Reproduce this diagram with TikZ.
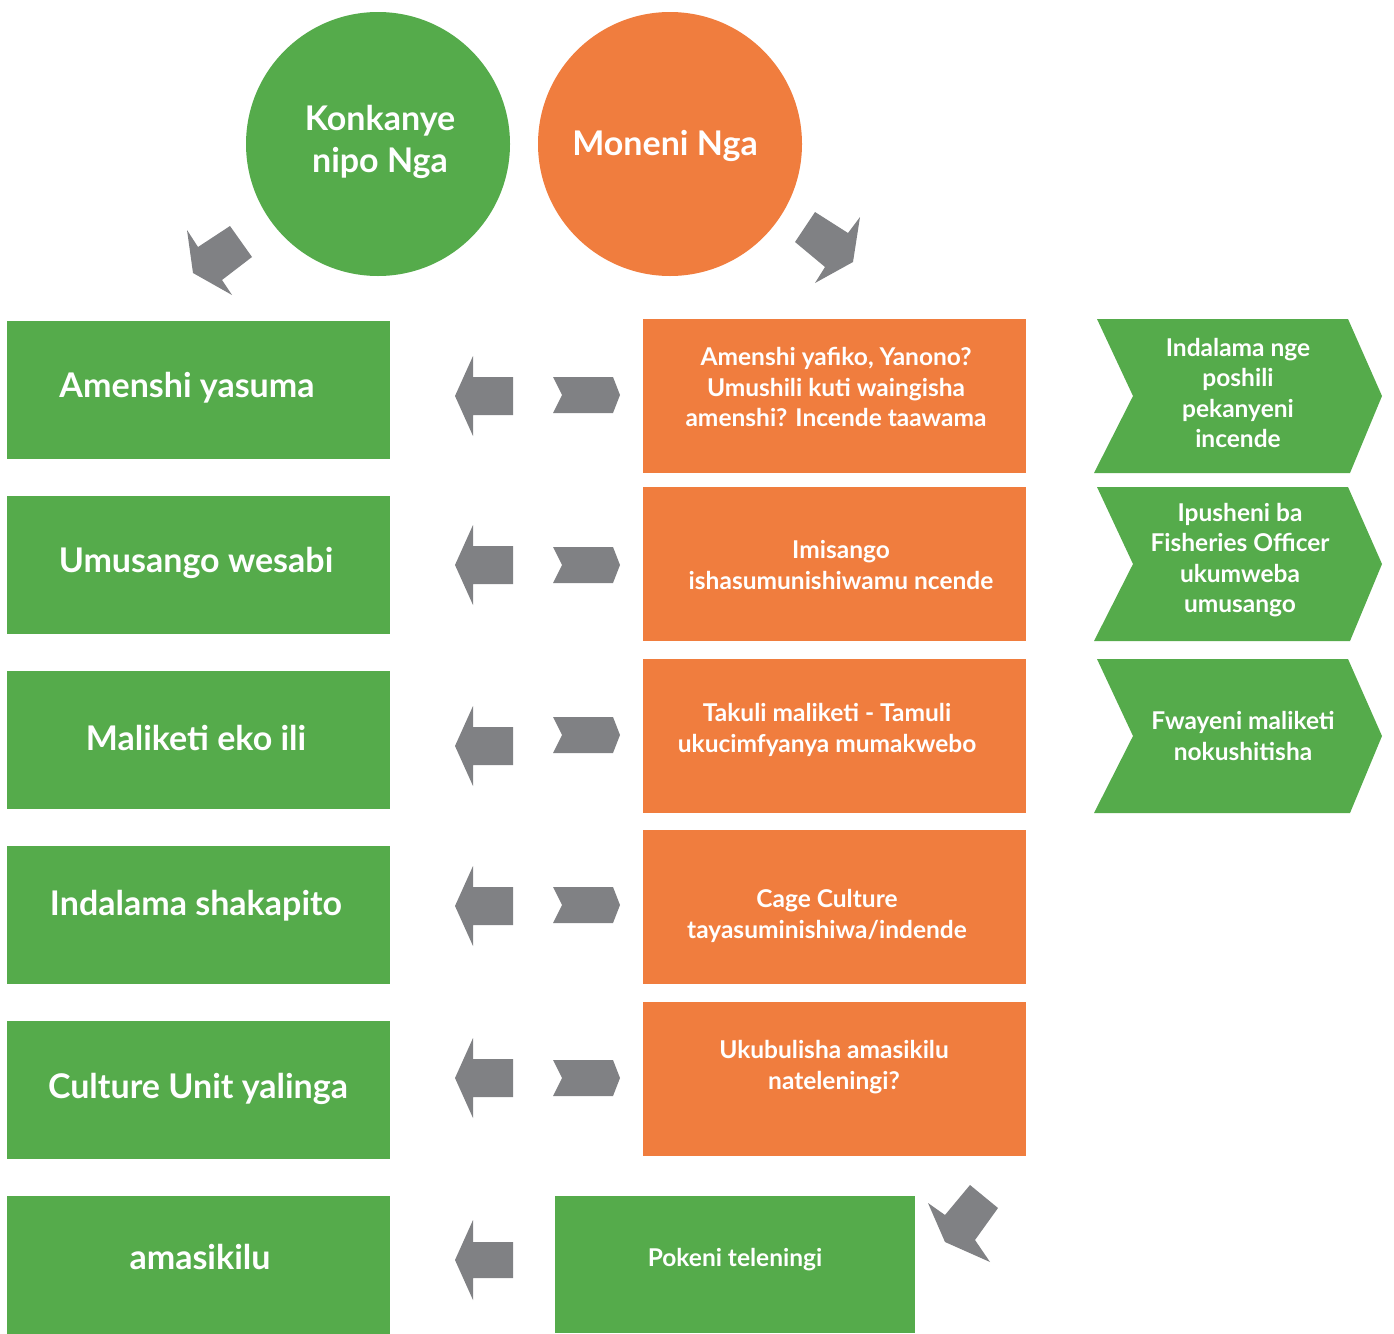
\documentclass[tikz,border=0pt]{standalone}
\usepackage{fontspec}
\setmainfont{Lato}
\usetikzlibrary{positioning}
\definecolor{leafgreen}{HTML}{55AB4B}
\definecolor{sunorange}{HTML}{F07D3E}
\definecolor{arrowgray}{HTML}{808184}
\begin{document}
\begin{tikzpicture}[x=1pt, y=-1pt,
    bigbox/.style={fill=leafgreen, text=white, minimum width=383pt, minimum height=138pt, inner sep=0pt},
    orangebox/.style={fill=sunorange, minimum width=383pt, minimum height=154pt, inner sep=0pt},
    bigtext/.style={text=white, align=center, font=\fontsize{34}{42}\selectfont\bfseries},
    smalltext/.style={text=white, align=center, font=\fontsize{24.5}{30.5}\selectfont\bfseries},
    bubble/.style={circle, minimum size=264pt, inner sep=0pt}]
\useasboundingbox (0,0) rectangle (1394,1333);

% top circles
\node[bubble, fill=leafgreen] (konkanye) at (378,144) {};
\node[bigtext] at (380,142) {Konkanye\\nipo Nga};
\node[bubble, fill=sunorange] (moneni) at (670,144) {};
\node[bigtext] at (665,146) {Moneni Nga};

% left column
\node[bigbox] (amenshi) at (198.5,390) {};
\node[bigtext] at (187,388) {Amenshi yasuma};
\node[bigbox] (umusango) at (198.5,565) {};
\node[bigtext] at (196,563) {Umusango wesabi};
\node[bigbox] (maliketi) at (198.5,740) {};
\node[bigtext] at (196,738) {Maliketi eko ili};
\node[bigbox] (indalama) at (198.5,915) {};
\node[bigtext] at (196,906) {Indalama shakapito};
\node[bigbox] (culture) at (198.5,1090) {};
\node[bigtext] at (198,1089) {Culture Unit yalinga};
\node[bigbox] (amasikilu) at (198.5,1264.5) {};
\node[bigtext] at (200,1257) {amasikilu};

% middle column
\node[orangebox] (yafiko) at (834.5,396) {};
\node[smalltext] at (836,387) {Amenshi yafiko, Yanono?\\Umushili kuti waingisha\\amenshi? Incende taawama};
\node[orangebox] (imisango) at (834.5,564) {};
\node[smalltext] at (841,565) {Imisango\\ishasumunishiwamu ncende};
\node[orangebox] (takuli) at (834.5,736) {};
\node[smalltext] at (827,730) {Takuli maliketi - Tamuli\\ukucimfyanya mumakwebo};
\node[orangebox] (cage) at (834.5,907) {};
\node[smalltext] at (827,916) {Cage Culture\\tayasuminishiwa/indende};
\node[orangebox] (ukubulisha) at (834.5,1079) {};
\node[smalltext] at (834,1067) {Ukubulisha amasikilu\\nateleningi?};
\node[fill=leafgreen, minimum width=360pt, minimum height=137pt, inner sep=0pt] (pokeni) at (735,1264.5) {};
\node[smalltext] at (735,1260) {Pokeni teleningi};

% right chevrons
\foreach \top/\bot in {319/473, 487/641, 659/813}
  \fill[leafgreen] (1097,\top) -- (1348,\top) -- (1382,{(\top+\bot)/2}) -- (1350,\bot)
    -- (1094,\bot) -- (1133,{(\top+\bot)/2}) -- cycle;
\node[smalltext] (poshili) at (1238,393) {Indalama nge\\poshili\\pekanyeni\\incende};
\node[smalltext] (ipusheni) at (1240,560) {Ipusheni ba\\Fisheries Officer\\ukumweba\\umusango};
\node[smalltext] (fwayeni) at (1243,736) {Fwayeni maliketi\\nokushitisha};

% gray arrows
\foreach \ly/\ry in {396/395, 565/565, 746/735, 906/905, 1078/1078}{
  \fill[arrowgray] (455,\ly) -- (473,\ly-40) -- (473,\ly-19) -- (513,\ly-19)
    -- (513,\ly+19) -- (473,\ly+19) -- (473,\ly+40) -- cycle;
  \fill[arrowgray] (553,\ry-18) -- (613,\ry-18) -- (620,\ry) -- (613,\ry+18)
    -- (553,\ry+18) -- (562,\ry) -- cycle;
}
\fill[arrowgray] (455,1260) -- (473,1220) -- (473,1242) -- (513,1242)
  -- (513,1278) -- (473,1278) -- (473,1300) -- cycle;

% diagonal arrows
\fill[arrowgray] (187,230) -- (193,273) -- (232,295) -- (222,280) -- (252,257) -- (230,226) -- (198,247) -- cycle;
\fill[arrowgray] (795,242) -- (815,212) -- (848,233) -- (860,217) -- (853,262) -- (815,283) -- (825,267) -- cycle;
\fill[arrowgray] (928,1203) -- (945,1215) -- (970,1185) -- (998,1208) -- (975,1240) -- (990,1262) -- (945,1242) -- cycle;
\end{tikzpicture}
\end{document}
